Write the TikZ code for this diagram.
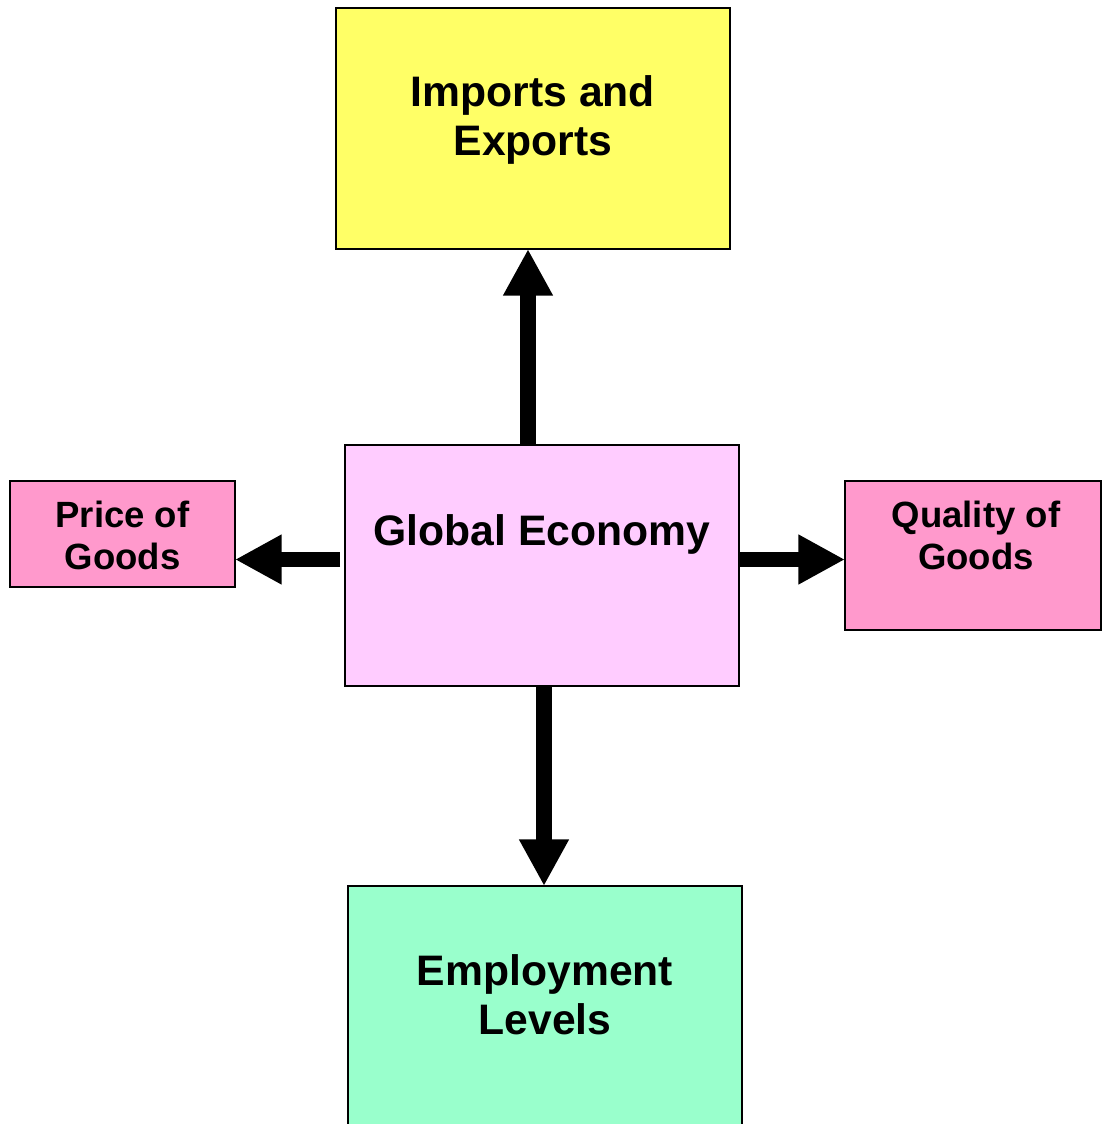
\documentclass[tikz,border=0pt]{standalone}
\usepackage{fontspec}
\setmainfont{Liberation Sans}
\usetikzlibrary{arrows.meta}
\definecolor{cyel}{HTML}{FFFF66}
\definecolor{cge}{HTML}{FFCCFF}
\definecolor{cpink}{HTML}{FF99CC}
\definecolor{cgreen}{HTML}{99FFCC}
\begin{document}
\begin{tikzpicture}[x=0.75pt,y=-0.75pt,
  box/.style={draw=black,line width=1.5pt,rectangle,inner sep=0pt,outer sep=0pt},
  bigtxt/.style={anchor=base,inner sep=0pt,font=\fontsize{32pt}{37pt}\selectfont\bfseries},
  smalltxt/.style={anchor=base,inner sep=0pt,font=\fontsize{27.4pt}{32pt}\selectfont\bfseries},
  blockarrow/.style={line width=11.6pt,-{Triangle[length=35pt,width=35pt]}}]
\useasboundingbox (0,0) rectangle (1102,1124);
\fill[white] (0,0) rectangle (1102,1124);
% boxes
\node[box,fill=cyel,minimum width=295.5pt,minimum height=180.75pt] (ie) at (533,128.5) {};
\node[box,fill=cge,minimum width=295.5pt,minimum height=180.75pt] (ge) at (542,565.5) {};
\node[box,fill=cpink,minimum width=168.75pt,minimum height=79.5pt] (pg) at (122.5,534) {};
\node[box,fill=cpink,minimum width=192pt,minimum height=111.75pt] (qg) at (973,555.5) {};
\node[box,fill=cgreen,minimum width=295.5pt,minimum height=186pt] (el) at (545,1010) {};
% texts
\node[bigtxt] (t1) at (533,106) {Imports and};
\node[bigtxt] (t2) at (533,155) {Exports};
\node[bigtxt] (t3) at (542,545) {Global Economy};
\node[smalltxt] (t4) at (122.5,527) {Price of};
\node[smalltxt] (t5) at (122.5,569) {Goods};
\node[smalltxt] (t6) at (976,527) {Quality of};
\node[smalltxt] (t7) at (976,569) {Goods};
\node[bigtxt] (t8) at (545,985) {Employment};
\node[bigtxt] (t9) at (545,1034) {Levels};
% arrows
\coordinate (upS) at (528,445);
\coordinate (upE) at (528,250);
\draw[blockarrow] (upS |- ge.north) -- (upE |- ie.south);
\coordinate (lfS) at (340,559.5);
\draw[blockarrow] (lfS) -- (lfS -| pg.east);
\coordinate (rtS) at (739,559.5);
\draw[blockarrow] (rtS -| ge.east) -- (rtS -| qg.west);
\coordinate (dnS) at (544,687);
\draw[blockarrow] (dnS |- ge.south) -- (dnS |- el.north);
\end{tikzpicture}
\end{document}
